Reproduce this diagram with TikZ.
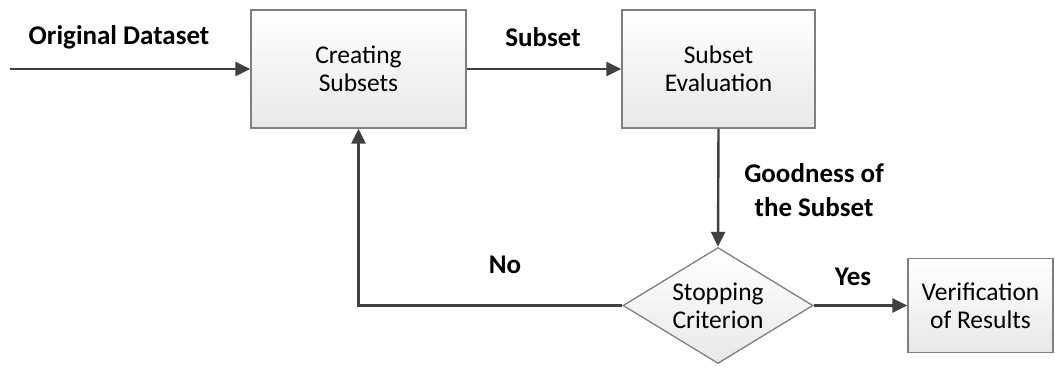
\documentclass[tikz,border=0pt]{standalone}
\usepackage{fontspec}
\setmainfont{Carlito}
\usetikzlibrary{arrows.meta,shapes.geometric}
\definecolor{linecol}{HTML}{404040}
\definecolor{boxline}{HTML}{7F7F7F}
\tikzset{
  box/.style={draw=boxline, line width=1.3pt, top color=white, bottom color=black!9,
    align=center, inner sep=0pt, font=\fontsize{25.5}{28}\selectfont},
  dec/.style={diamond, draw=boxline, line width=1.3pt, top color=white, bottom color=black!9,
    align=center, inner sep=0pt, font=\fontsize{25.5}{28}\selectfont},
  lbl/.style={align=center, font=\fontsize{27}{34}\selectfont\bfseries},
  conn/.style={draw=linecol, line width=2.4pt, -{Triangle[length=15pt,width=14pt]}},
}
\begin{document}
\begin{tikzpicture}[x=1pt,y=-1pt]
\useasboundingbox (0,0) rectangle (1055,367);
\node[box, minimum width=215pt, minimum height=118pt] (cs) at (358.5,69) {Creating\\Subsets};
\node[box, minimum width=193pt, minimum height=118pt] (se) at (718.5,69) {Subset\\Evaluation};
\node[dec, minimum width=190pt, minimum height=116pt, aspect=1.64] (sc) at (718,305.5) {Stopping\\Criterion};
\node[box, minimum width=145pt, minimum height=94pt] (vr) at (980.5,305.5) {Verification\\of Results};
\coordinate (start) at (10,69);
\node[lbl] (lod) at (119,37) {Original Dataset};
\node[lbl] (lsub) at (543,37) {Subset};
\node[lbl] (lgood) at (814,190) {Goodness of\\the Subset};
\node[lbl] (lno) at (505,265) {No};
\node[lbl] (lyes) at (853,277) {Yes};
\draw[conn] (start) -- (cs.west);
\draw[conn] (cs.east) -- (se.west);
\draw[conn] (se.south) -- (sc.north);
\draw[conn] (sc.east) -- (vr.west);
\draw[conn] (sc.west) -| (cs.south);
\end{tikzpicture}
\end{document}
